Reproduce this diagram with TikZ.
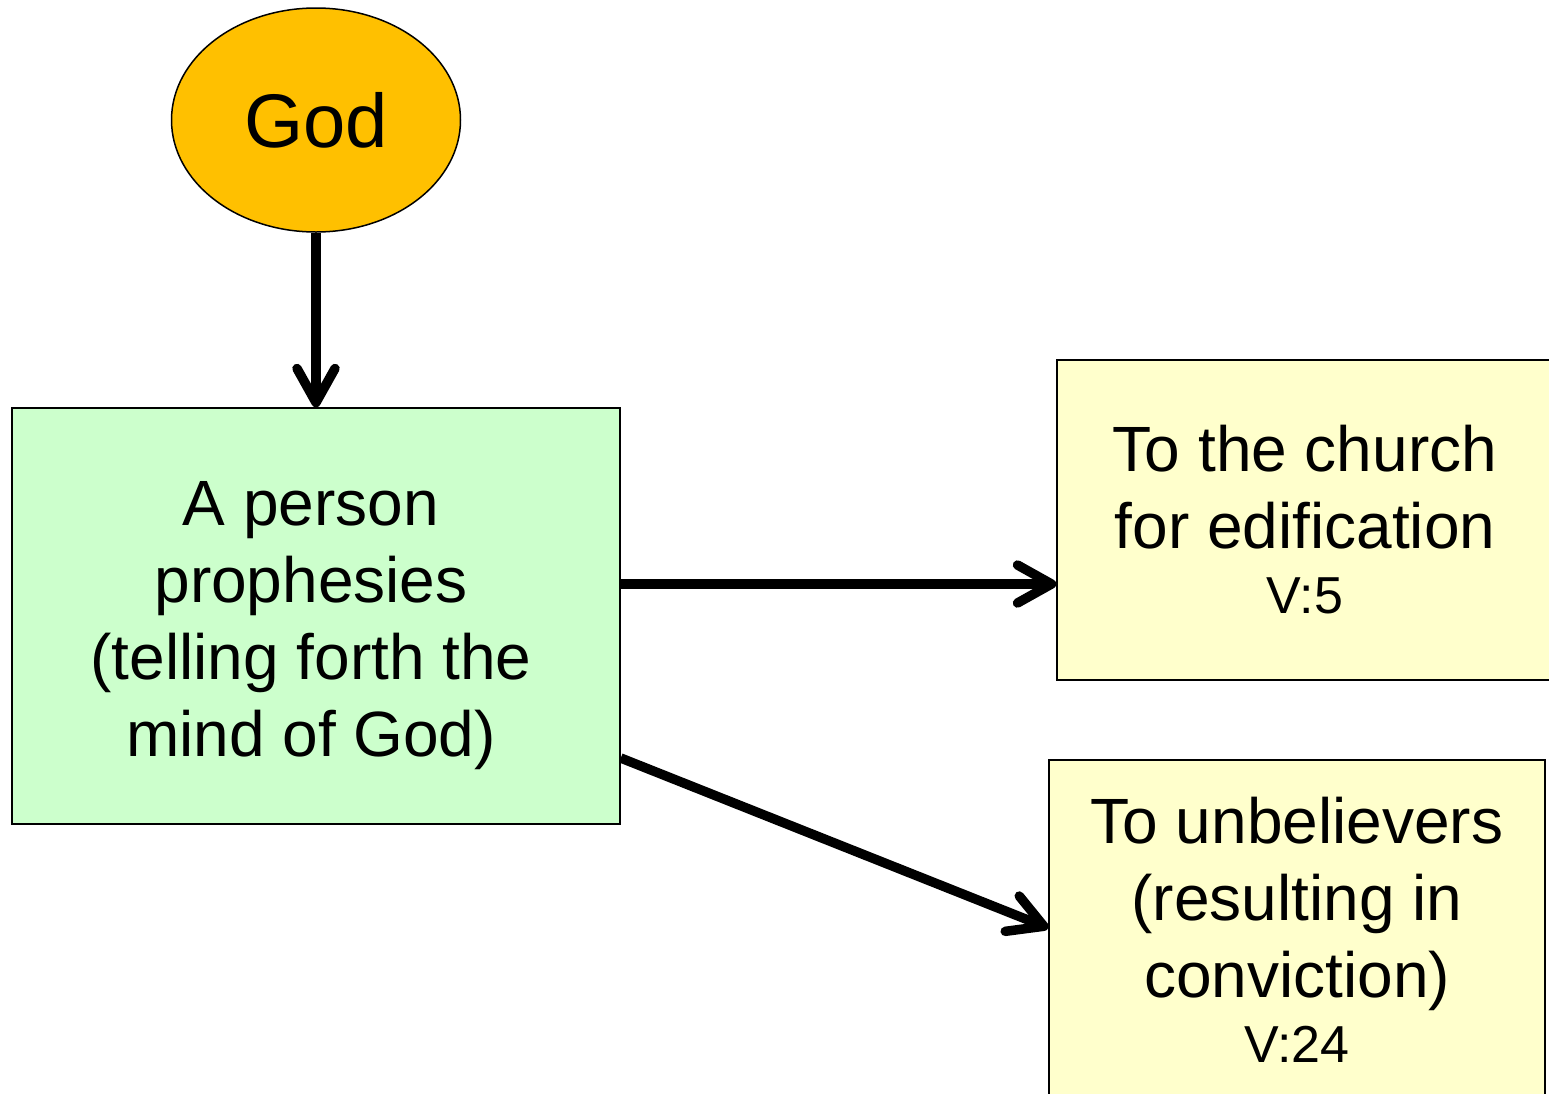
\documentclass[tikz,border=0pt]{standalone}
\usepackage{fontspec}
\setmainfont{Liberation Sans}
\usetikzlibrary{arrows.meta,shapes.geometric}
\definecolor{godfill}{HTML}{FFC000}
\definecolor{greenfill}{HTML}{CCFFCC}
\definecolor{yellowfill}{HTML}{FFFFCC}
\tikzset{
  boxstyle/.style={draw=black, line width=1.5pt, rectangle, inner sep=0pt, align=center,
    font=\fontsize{64}{77}\selectfont},
  flowarrow/.style={line width=9.5pt, -{Straight Barb[length=34pt,width=38pt,round]}},
}
\newcommand{\smallref}[1]{{\fontsize{52}{62}\selectfont #1}}
\begin{document}
\begin{tikzpicture}[x=1pt,y=-1pt]
  \useasboundingbox (0,0) rectangle (1549,1093);
  \clip (0,0) rectangle (1549,1093);
  \node[draw=black, line width=1.5pt, ellipse, fill=godfill, minimum width=289pt, minimum height=224pt, inner sep=0pt,
        font=\fontsize{76}{90}\selectfont] (god) at (316,120) {God};
  \node[boxstyle, fill=greenfill, minimum width=608pt, minimum height=416pt] (green) at (316,616) {};
  \node[align=center, font=\fontsize{64}{77}\selectfont, inner sep=0pt] (greentext) at (311,626)
     {A person\\prophesies\\(telling forth the\\mind of God)};
  \node[boxstyle, fill=yellowfill, minimum width=496pt, minimum height=320pt] (church) at (1305,520)
     {To the church\\for edification\\[-12pt]\smallref{V:5}};
  \node[boxstyle, fill=yellowfill, minimum width=496pt, minimum height=340pt] (unbel) at (1297,930)
     {To unbelievers\\(resulting in\\conviction)\\[-12pt]\smallref{V:24}};
  \draw[flowarrow] (god.south) -- (green.north);
  \draw[flowarrow] (green.east |- 0,584) -- (church.west |- 0,584);
  \draw[flowarrow] (green.east |- 0,758) -- (unbel.west |- 0,928);
\end{tikzpicture}
\end{document}
